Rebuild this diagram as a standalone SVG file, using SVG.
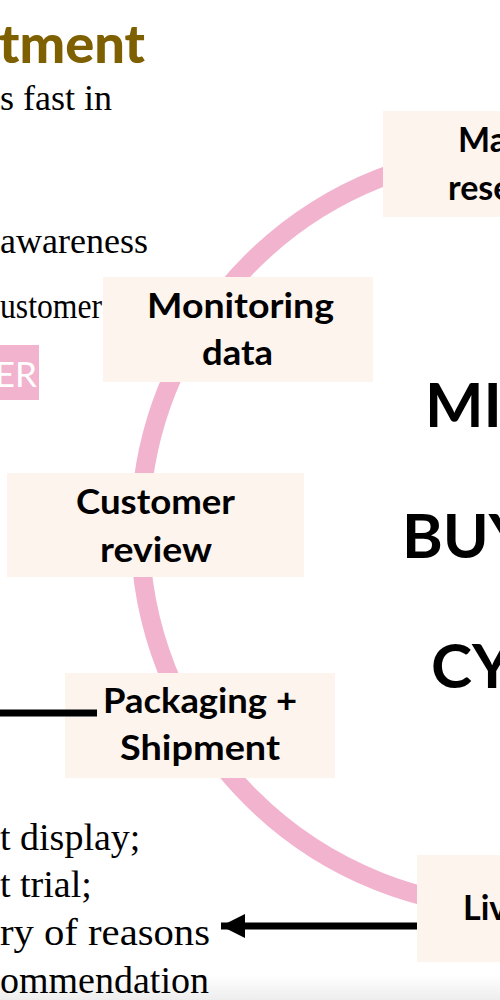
<svg xmlns="http://www.w3.org/2000/svg" width="500" height="1000" viewBox="0 0 500 1000">
<defs>
<style>
.box{fill:#FDF4EE;}
.lbl{font-family:Lato,"Liberation Sans",sans-serif;font-weight:bold;font-size:34px;fill:#000;}
.big{font-family:Lato,"Liberation Sans",sans-serif;font-weight:bold;font-size:62px;fill:#000;}
.body{font-family:"Liberation Serif","Times New Roman",serif;font-size:36px;fill:#000;}
.body2{font-family:"Liberation Serif","Times New Roman",serif;font-size:38px;fill:#000;}
.conn{stroke:#000;stroke-width:7;fill:none;}
</style>
<marker id="ah" markerUnits="userSpaceOnUse" markerWidth="26" markerHeight="26" refX="24" refY="12" orient="auto">
<path d="M0,0 L24,12 L0,24 Z" fill="#000"/>
</marker>
<linearGradient id="shade" x1="0" y1="0" x2="0" y2="1">
<stop offset="0" stop-color="#ffffff"/>
<stop offset="1" stop-color="#ededed"/>
</linearGradient>
</defs>
<rect width="500" height="1000" fill="#fff"/>
<rect x="0" y="975" width="500" height="25" fill="url(#shade)"/>

<g id="background-text">
<text x="-1" y="63" font-family="Lato,'Liberation Sans',sans-serif" font-weight="900" font-size="54" fill="#7F6000" textLength="146" lengthAdjust="spacingAndGlyphs">tment</text>
<text class="body" x="0" y="110">s fast in</text>
<text class="body" x="0" y="253">awareness</text>
<text class="body" x="0" y="318" textLength="102" lengthAdjust="spacingAndGlyphs">ustomer</text>
<rect x="0" y="345" width="39" height="55" fill="#F2B3CE"/>
<text x="37" y="387" text-anchor="end" font-family="Lato,'Liberation Sans',sans-serif" font-size="35" fill="#fff">ER</text>
<text class="body2" x="0" y="850">t display;</text>
<text class="body2" x="0" y="897">t trial;</text>
<text class="body2" x="0" y="945" textLength="210" lengthAdjust="spacingAndGlyphs">ry of reasons</text>
<text class="body2" x="0" y="993">ommendation</text>
</g>

<g id="cycle-ring">
<circle cx="518" cy="530" r="378" fill="none" stroke="#F2B3CE" stroke-width="19"/>
</g>

<g id="cycle-title">
<text class="big" x="425" y="427">MI</text>
<text class="big" x="402" y="558">BUY</text>
<text class="big" x="431" y="688">CY</text>
</g>

<g id="node-market-research">
<rect class="box" x="383" y="111" width="140" height="106"/>
<text class="lbl" x="458" y="152">Ma</text>
<text class="lbl" x="448" y="200">rese</text>
</g>

<g id="node-monitoring-data">
<rect class="box" x="103" y="277" width="270" height="105"/>
<text class="lbl" x="147" y="318" textLength="187" lengthAdjust="spacingAndGlyphs">Monitoring</text>
<text class="lbl" x="202" y="365" textLength="71" lengthAdjust="spacingAndGlyphs">data</text>
</g>

<g id="node-customer-review">
<rect class="box" x="7" y="473" width="297" height="104"/>
<text class="lbl" x="76" y="514" textLength="159" lengthAdjust="spacingAndGlyphs">Customer</text>
<text class="lbl" x="100" y="562" textLength="112" lengthAdjust="spacingAndGlyphs">review</text>
</g>

<g id="node-packaging-shipment">
<rect class="box" x="65" y="673" width="270" height="105"/>
<text class="lbl" x="103" y="713" textLength="194" lengthAdjust="spacingAndGlyphs">Packaging +</text>
<text class="lbl" x="120" y="760" textLength="160" lengthAdjust="spacingAndGlyphs">Shipment</text>
</g>

<g id="node-live">
<rect class="box" x="417" y="855" width="100" height="107"/>
<text class="lbl" x="463" y="920">Liv</text>
</g>

<g id="connectors">
<line class="conn" x1="0" y1="713" x2="97" y2="713"/>
<line class="conn" x1="417" y1="926" x2="221" y2="926" marker-end="url(#ah)"/>
</g>
</svg>
